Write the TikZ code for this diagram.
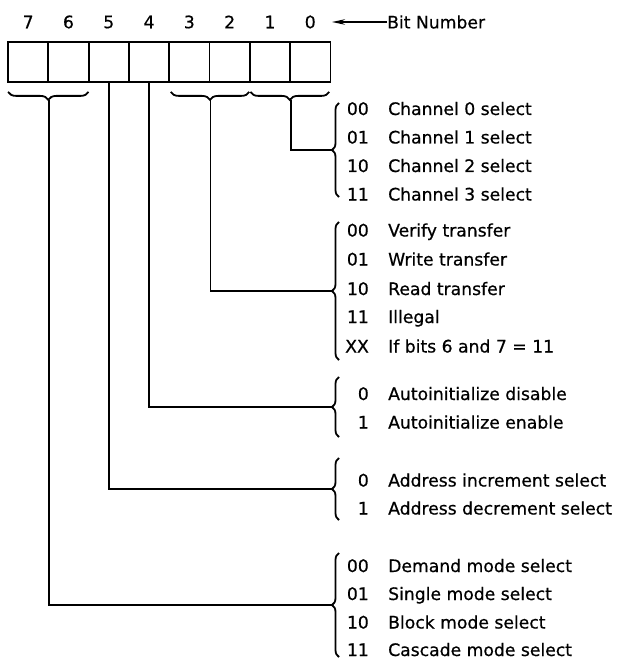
\documentclass[tikz,border=0pt]{standalone}
\usepackage{fontspec}
\setmainfont{DejaVu Sans}[FakeBold=0.6]
\usetikzlibrary{decorations.pathreplacing,arrows.meta,calc}

\begin{document}
\begin{tikzpicture}[
			x=1pt, y=-1pt,
			every node/.style={font=\fontsize{17.2}{20}\selectfont, inner sep=0pt},
			cell/.style={draw, line width=1.8pt, minimum width=40.3pt, minimum height=40pt},
			brc/.style={decorate, decoration={brace, amplitude=7pt}, line width=1.8pt},
			wire/.style={line width=1.8pt},
			code/.style={anchor=base east},
			desc/.style={anchor=base west}
			]
			\useasboundingbox (0,0) rectangle (619,660);
			
			\foreach \i in {0,...,7} {
				\node[cell] (b\i) at ({28.15+40.3*(7-\i)},62) {};
				\node (n\i) at ({28.15+40.3*(7-\i)},22) {\i};
			}
			\node[anchor=west] (bn) at (387,22) {Bit Number};
			\coordinate (hd) at (332,22);
			\draw[-{Stealth[length=13pt,width=5.5pt]}, line width=1.5pt] (bn.west) -- (hd);
			
			\draw[brc, decoration={amplitude=8pt}] ([xshift=-1pt,yshift=-9pt]b6.south east) -- ([xshift=1pt,yshift=-9pt]b7.south west);
			\draw[brc, decoration={amplitude=8pt}] ([xshift=-1.5pt,yshift=-9pt]b2.south east) -- ([xshift=2.5pt,yshift=-9pt]b3.south west);
			\draw[brc, decoration={amplitude=8pt}] ([xshift=-2pt,yshift=-9pt]b0.south east) -- ([xshift=1.5pt,yshift=-9pt]b1.south west);
			\coordinate (t76) at ($(b7.south east)+(0,17)$);
			\coordinate (t32) at ($(b3.south east)+(0,17)$);
			\coordinate (t10) at ($(b1.south east)+(0,17)$);
			
			\foreach \top/\bot/\grp in {103/197/chn, 222/360/trf, 377/437/ain, 458/520/adr, 553/657/mod} {
				\draw[brc] (339,\bot) -- (339,\top);
				\coordinate (\grp) at (332,{(\top+\bot)/2});
			}
			
			\draw[wire] (t10) |- (chn);
			\draw[wire] (t32) |- (trf);
			\draw[wire] (b4.south) |- (ain);
			\draw[wire] (b5.south) |- (adr);
			\draw[wire] (t76) |- (mod);
			
			\foreach \y/\c/\t [count=\k] in {
				115/00/Channel 0 select, 143.5/01/Channel 1 select, 172/10/Channel 2 select, 200.5/11/Channel 3 select,
				236.5/00/Verify transfer, 265.5/01/Write transfer, 295/10/Read transfer, 323/11/Illegal, 352.5/XX/If bits 6 and 7 = 11,
				400/0/Autoinitialize disable, 428.5/1/Autoinitialize enable,
				486.5/0/Address increment select, 514.5/1/Address decrement select,
				572/00/Demand mode select, 600/01/Single mode select, 628.5/10/Block mode select, 656/11/Cascade mode select} {
				\node[code] (c\k) at (369,\y) {\c};
				\node[desc] (d\k) at (388,\y) {\t};
			}
		\end{tikzpicture}
\end{document}
